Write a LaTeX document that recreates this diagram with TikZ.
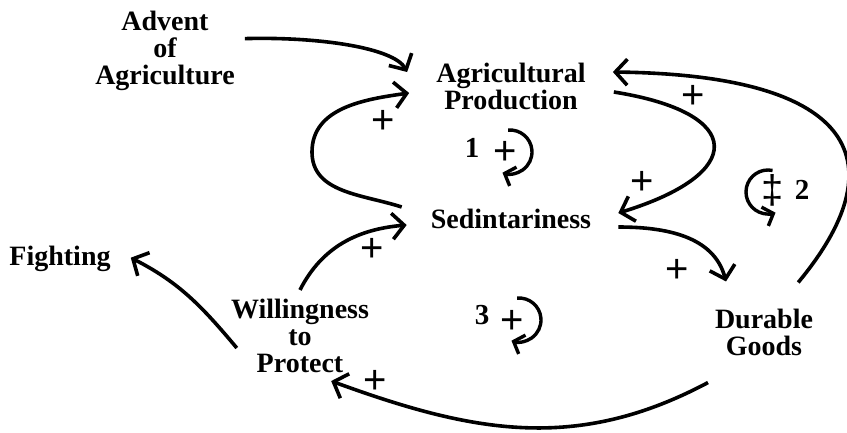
\documentclass[tikz,border=0pt]{standalone}
\usepackage{fontspec}
\setmainfont{Liberation Serif}
\newfontfamily\plusfont{Liberation Sans}
\usetikzlibrary{arrows.meta}

\begin{document}
\begin{tikzpicture}[x=1pt,y=1pt,
	var/.style={font=\bfseries\fontsize{28}{27}\selectfont, align=center, inner sep=0pt},
	num/.style={font=\bfseries\fontsize{29}{29}\selectfont, inner sep=0pt},
	sgn/.style={font=\plusfont\fontsize{40}{40}\selectfont, inner sep=0pt},
	link/.style={line width=3.6pt, -{Straight Barb[length=12pt,width=26pt]}},
	loopar/.style={line width=3.4pt, -{Straight Barb[length=9pt,width=20pt]}}]
\useasboundingbox (0,0) rectangle (847,-432);

%----------------------------
% Variables
%----------------------------
\node[var] (adv) at (165,-50.6) {Advent\\of\\Agriculture};
\node[var] (agp) at (511,-86) {Agricultural\\Production};
\node[var] (sed) at (511,-219) {Sedintariness};
\node[var] (fig) at (60,-258.7) {Fighting};
\node[var] (wil) at (300,-336) {Willingness\\to\\Protect};
\node[var] (dur) at (764,-332) {Durable\\Goods};

%----------------------------
% Links
%----------------------------
\draw[link] ([shift={(10,12)}]adv.east) .. controls +(75,2) and +(-13,24) .. ([shift={(-29,14)}]agp.west);
% loop 1
\draw[link] ([shift={(-29,12)}]sed.west) to[out=162,in=-90] (312,-152) to[out=90,in=188] ([shift={(-27,-7)}]agp.west);
\draw[link] ([shift={(28,-6)}]agp.east) .. controls +(-9:134) and +(17:134) .. ([shift={(27,6)}]sed.east);
% loop 2
\draw[link] ([shift={(27,-8)}]sed.east) to[out=0,in=105] ([shift={(-38,27)}]dur.north);
\draw[link] ([shift={(-15,26)}]dur.north east) .. controls +(98,118) and +(248,-3) .. ([shift={(27,14)}]agp.east);
% loop 3
\draw[link] ([shift={(-56,-27)}]dur.south) .. controls +(208:150) and +(-20:150) .. ([shift={(-38,-8)}]wil.south east);
\draw[link] ([shift={(0,9)}]wil.north) to[out=63,in=185] ([shift={(-24,-6)}]sed.west);
\draw[link] ([shift={(6,-12)}]wil.west) to[out=130,in=-27] ([shift={(20,1)}]fig.east);

% polarities
\node[sgn] (s1) at (383,-122) {+};
\node[sgn] (s2) at (693,-97) {+};
\node[sgn] (s3) at (642,-183) {+};
\node[sgn] (s4) at (677,-271) {+};
\node[sgn] (s5) at (372,-250) {+};
\node[sgn] (s6) at (375,-382) {+};

%----------------------------
% Loop markers
%----------------------------
\draw[loopar] (510,-152) ++(95:22) arc[start angle=95,end angle=-110,radius=22];
\node[num] (n1) at (472,-148) {1};
\node[sgn] (p1) at (505,-153) {+};

\draw[loopar] (768,-192) ++(78:22) arc[start angle=78,end angle=290,radius=22];
\node[sgn] (p2) at (773,-190) {‡};
\node[num] (n2) at (802,-190) {2};

\draw[loopar] (519,-320) ++(95:22) arc[start angle=95,end angle=-110,radius=22];
\node[num] (n3) at (482,-315) {3};
\node[sgn] (p3) at (512,-322) {+};

\end{tikzpicture}
\end{document}
